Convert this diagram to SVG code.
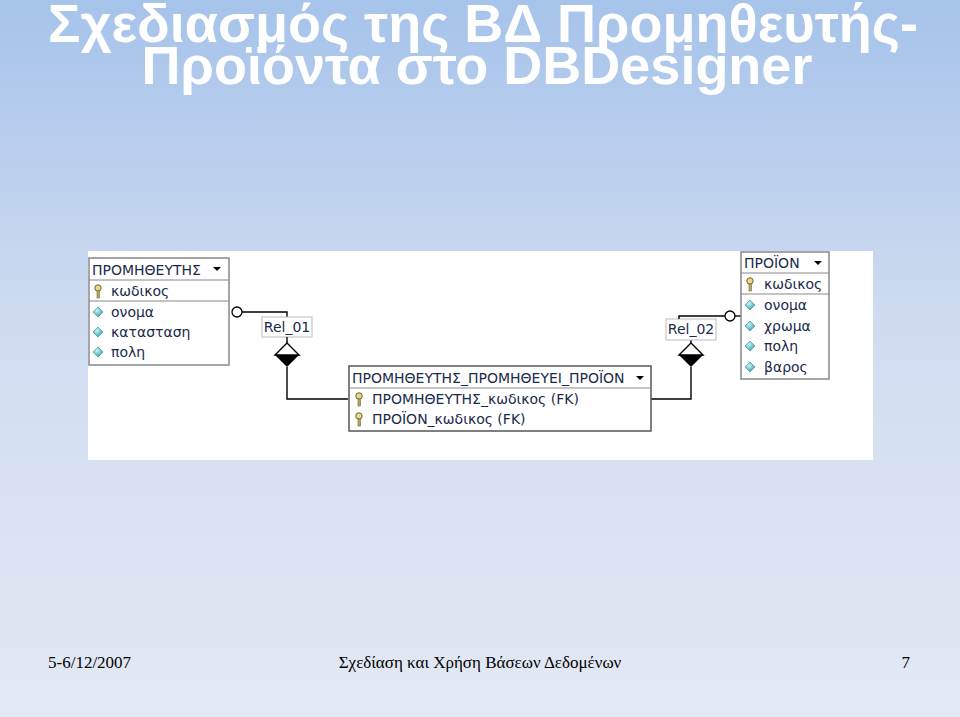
<svg xmlns="http://www.w3.org/2000/svg" width="960" height="717" viewBox="0 0 960 717">
<defs>
<linearGradient id="bg" x1="0" y1="0" x2="0" y2="1">
<stop offset="0" stop-color="#a6c3ea"/><stop offset="0.45" stop-color="#cfdcf0"/><stop offset="1" stop-color="#e3e9f4"/>
</linearGradient>
<radialGradient id="dot" cx="0.4" cy="0.35" r="0.7"><stop offset="0" stop-color="#c8f4f4"/><stop offset="1" stop-color="#2a9ea8"/></radialGradient>
<g id="key"><circle cx="0" cy="-4" r="3.2" fill="#e9d98a" stroke="#6c6433" stroke-width="1"/><rect x="-1" y="-1" width="2.4" height="7" fill="#b8a85a" stroke="#6c6433" stroke-width="0.6"/></g>
<path id="att" d="M0,-5 L5,0 L0,5 L-5,0Z" fill="url(#dot)" stroke="#3a8a90" stroke-width="0.6"/>
<path id="arr" d="M-4,-2 L4,-2 L0,2Z" fill="#000"/>
</defs>
<style>
.t{font-family:"DejaVu Sans",sans-serif;font-size:14px;fill:#1a2a4a}
.tb{fill:#fff;stroke:#888;stroke-width:1.5}
.sep{stroke:#888;stroke-width:1}
.ln{fill:none;stroke:#000;stroke-width:1.4}
.title{font-family:"Liberation Sans",Arial,sans-serif;font-size:54px;font-weight:bold;fill:#fff}
.ft{font-family:"Liberation Serif","Times New Roman",serif;font-size:17px;fill:#000}
</style>
<rect width="960" height="717" fill="url(#bg)"/>
<text class="title" x="48" y="42">Σχεδιασμός της ΒΔ Προμηθευτής-</text>
<text class="title" x="477" y="84" text-anchor="middle">Προϊόντα στο DBDesigner</text>
<rect x="88" y="251" width="785" height="209" fill="#fff"/>
<g id="connectors">
<circle cx="237" cy="312" r="5" fill="#fff" stroke="#000" stroke-width="1.3"/>
<path class="ln" d="M242,312 H287 V318"/>
<rect x="262" y="317" width="50" height="20" fill="#fff" stroke="#bbb"/>
<text class="t" x="287" y="332" text-anchor="middle">Rel_01</text>
<path class="ln" d="M287,337 V343"/>
<path d="M275,355 L287,343 L299,355Z" fill="#fff" stroke="#000" stroke-width="1.4"/>
<path d="M275,355 L287,367 L299,355Z" fill="#000"/>
<path class="ln" d="M287,367 V399 H348"/>
<path class="ln" d="M651,399 H691 V367"/>
<path d="M679,355 L691,343 L703,355Z" fill="#fff" stroke="#000" stroke-width="1.4"/>
<path d="M679,355 L691,367 L703,355Z" fill="#000"/>
<path class="ln" d="M691,343 V340"/>
<rect x="666" y="319" width="50" height="21" fill="#fff" stroke="#bbb"/>
<text class="t" x="691" y="334" text-anchor="middle">Rel_02</text>
<path class="ln" d="M679,319 V316 H725"/>
<circle cx="730" cy="316" r="5" fill="#fff" stroke="#000" stroke-width="1.3"/>
<path class="ln" d="M735,316 H741"/>
</g>
<g id="promitheftis">
<rect x="89" y="258" width="140" height="107" class="tb"/>
<line x1="89" y1="280" x2="229" y2="280" class="sep"/>
<line x1="89" y1="301" x2="229" y2="301" class="sep"/>
<text class="t" x="92" y="275">ΠΡΟΜΗΘΕΥΤΗΣ</text>
<use href="#arr" x="217" y="269"/>
<use href="#key" x="98" y="292"/><text class="t" x="111" y="296">κωδικος</text>
<use href="#att" x="98" y="312"/><text class="t" x="111" y="317">ονομα</text>
<use href="#att" x="98" y="332"/><text class="t" x="111" y="337">κατασταση</text>
<use href="#att" x="98" y="352"/><text class="t" x="111" y="357">πολη</text>
</g>
<g id="promitheyei">
<rect x="349" y="366" width="302" height="65" class="tb" style="stroke:#555"/>
<line x1="349" y1="388" x2="651" y2="388" class="sep"/>
<text class="t" x="352" y="383">ΠΡΟΜΗΘΕΥΤΗΣ_ΠΡΟΜΗΘΕΥΕΙ_ΠΡΟΪΟΝ</text>
<use href="#arr" x="640" y="378"/>
<use href="#key" x="359" y="400"/><text class="t" x="372" y="404">ΠΡΟΜΗΘΕΥΤΗΣ_κωδικος (FK)</text>
<use href="#key" x="359" y="420"/><text class="t" x="372" y="424">ΠΡΟΪΟΝ_κωδικος (FK)</text>
</g>
<g id="proion">
<rect x="741" y="252" width="88" height="127" class="tb"/>
<line x1="741" y1="273" x2="829" y2="273" class="sep"/>
<line x1="741" y1="294" x2="829" y2="294" class="sep"/>
<text class="t" x="744" y="268">ΠΡΟΪΟΝ</text>
<use href="#arr" x="818" y="263"/>
<use href="#key" x="750" y="285"/><text class="t" x="764" y="289">κωδικος</text>
<use href="#att" x="750" y="305"/><text class="t" x="764" y="310">ονομα</text>
<use href="#att" x="750" y="326"/><text class="t" x="764" y="331">χρωμα</text>
<use href="#att" x="750" y="346"/><text class="t" x="764" y="351">πολη</text>
<use href="#att" x="750" y="367"/><text class="t" x="764" y="372">βαρος</text>
</g>
<text class="ft" x="48" y="668">5-6/12/2007</text>
<text class="ft" x="480" y="668" text-anchor="middle">Σχεδίαση και Χρήση Βάσεων Δεδομένων</text>
<text class="ft" x="910" y="668" text-anchor="end">7</text>
</svg>
